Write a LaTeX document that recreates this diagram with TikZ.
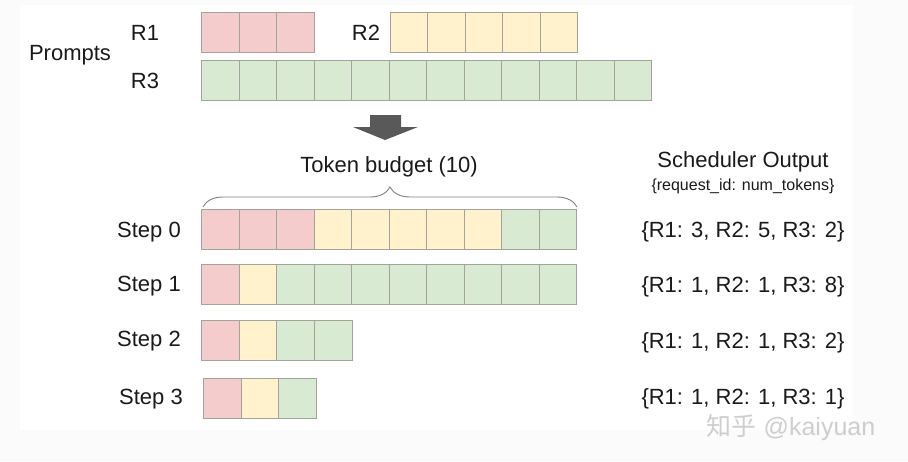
\documentclass[tikz,border=0pt]{standalone}
\usepackage{fontspec}
\setmainfont{Liberation Sans}
\newfontfamily\cjk{Noto Sans CJK SC}
\usetikzlibrary{decorations.pathreplacing}
\definecolor{tokred}{HTML}{F4CCCC}
\definecolor{tokyel}{HTML}{FFF2CC}
\definecolor{tokgrn}{HTML}{D9EAD3}
\definecolor{tokline}{HTML}{A3A39B}
\definecolor{arrowgray}{HTML}{595959}
\definecolor{txt}{HTML}{1A1A1A}
\definecolor{outerbg}{HTML}{FBFBFB}

\begin{document}
\begin{tikzpicture}[x=1pt, y=1pt]
	\tikzstyle{every node} = [font=\fontsize{22}{26}\selectfont, text=txt, inner sep=0]
	\tikzstyle{tok} = [draw=tokline, line width=0.9pt, minimum width=37.6, minimum height=40, anchor=north west]
	\tikzstyle{small} = [font=\fontsize{16}{19}\selectfont]
	\fill[outerbg] (0,0) rectangle (908,-461);
	\fill[white] (20,-5) rectangle (853,-430);
	\useasboundingbox (0,0) rectangle (908,-461);
	% prompts
	\node (prompts) at (70,-55) {Prompts};
	\node (r1) at (145,-33) {R1};
	\node (r2) at (366,-33) {R2};
	\node (r3) at (145,-81) {R3};
	\foreach \i in {0,...,2}
		\node[tok, fill=tokred] (r1-\i) at ({201+\i*37.6},-12) {};
	\foreach \i in {0,...,4}
		\node[tok, fill=tokyel] (r2-\i) at ({390+\i*37.4},-12) {};
	\foreach \i in {0,...,11}
		\node[tok, fill=tokgrn] (r3-\i) at ({201+\i*37.5},-60) {};
	% arrow
	\fill[arrowgray] (370,-115) -- (401,-115) -- (401,-127) -- (418,-127) -- (385,-140) -- (353,-127) -- (370,-127) -- cycle;
	% budget
	\node (budget) at (389,-167) {Token budget (10)};
	\coordinate (bl) at (203,-207);
	\coordinate (br) at (577,-207);
	\draw[gray, line width=0.9pt, decorate, decoration={brace, amplitude=20}] (bl) -- (br);
	% steps
	\node (step0) at (149,-232) {Step 0};
	\node (step1) at (149,-286) {Step 1};
	\node (step2) at (149,-341) {Step 2};
	\node (step3) at (151,-399) {Step 3};
	\foreach \c [count=\i from 0] in {tokred,tokred,tokred,tokyel,tokyel,tokyel,tokyel,tokyel,tokgrn,tokgrn}
		\node[tok, fill=\c] (s0-\i) at ({201+\i*37.5},-209) {};
	\foreach \c [count=\i from 0] in {tokred,tokyel,tokgrn,tokgrn,tokgrn,tokgrn,tokgrn,tokgrn,tokgrn,tokgrn}
		\node[tok, fill=\c] (s1-\i) at ({201+\i*37.5},-264) {};
	\foreach \c [count=\i from 0] in {tokred,tokyel,tokgrn,tokgrn}
		\node[tok, fill=\c] (s2-\i) at ({201+\i*37.7},-320) {};
	\foreach \c [count=\i from 0] in {tokred,tokyel,tokgrn}
		\node[tok, fill=\c] (s3-\i) at ({203+\i*37.7},-378) {};
	% scheduler output
	\node (sched) at (743,-162) {Scheduler Output};
	\node[small] (schedfmt) at (743,-186) {\{request\_id: num\_tokens\}};
	\node (out0) at (743,-232) {\{R1: 3, R2: 5, R3: 2\}};
	\node (out1) at (743,-287) {\{R1: 1, R2: 1, R3: 8\}};
	\node (out2) at (743,-343) {\{R1: 1, R2: 1, R3: 2\}};
	\node (out3) at (743,-399) {\{R1: 1, R2: 1, R3: 1\}};
	\node[font=\fontsize{25}{28}\selectfont, text=gray!45, opacity=0.85] (mark) at (791,-428) {{\cjk 知乎} @kaiyuan};
\end{tikzpicture}
\end{document}
